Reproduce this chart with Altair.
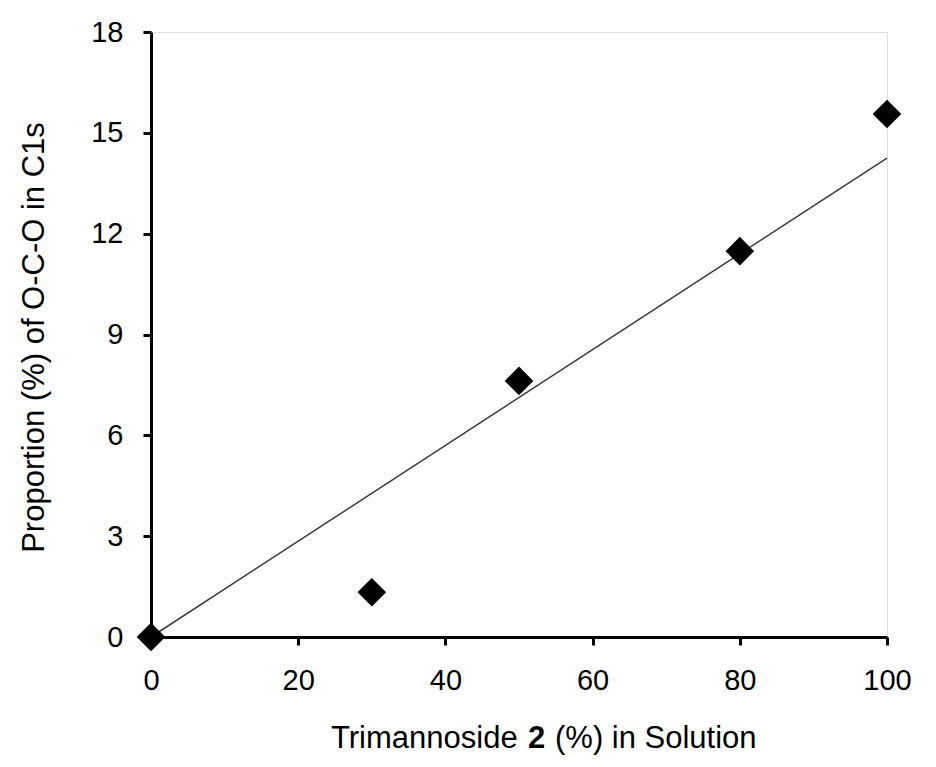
import altair as alt
import pandas as pd

# Data
trimannoside_pct = [0, 30, 50, 80, 100]
proportion_oco = [0.0, 1.33, 7.62, 11.48, 15.56]

# Linear trendline (endpoints)
trend_x = [0, 100]
trend_y = [0.0, 14.25]

x_ticks = [0, 20, 40, 60, 80, 100]
y_ticks = [0, 3, 6, 9, 12, 15, 18]

pts = pd.DataFrame({"x": trimannoside_pct, "y": proportion_oco})
trend = pd.DataFrame({"x": trend_x, "y": trend_y})

FONT = "Liberation Sans"

xscale = alt.Scale(domain=[0, 100], nice=False, zero=False)
yscale = alt.Scale(domain=[0, 18], nice=False, zero=False)

xaxis = alt.Axis(
    values=x_ticks, title=None, grid=False,
    domainColor="black", domainWidth=3,
    tickColor="black", tickWidth=3, tickSize=8,
    labelFont=FONT, labelFontSize=29, labelColor="black", labelPadding=21,
    labelFlush=False,
)
yaxis = alt.Axis(
    values=y_ticks, title="Proportion (%) of O-C-O in C1s", grid=False,
    domainColor="black", domainWidth=3,
    tickColor="black", tickWidth=3, tickSize=8,
    labelFont=FONT, labelFontSize=29, labelColor="black", labelPadding=20,
    labelFlush=False,
    titleFont=FONT, titleFontSize=31, titleFontWeight="normal", titleColor="black",
    titleAngle=-90, titleX=-108, titleY=305, titleAlign="center",
    titleBaseline="alphabetic",
)

line = alt.Chart(trend).mark_line(color="#3a3a3a", strokeWidth=1.5).encode(
    x=alt.X("x:Q", scale=xscale, axis=xaxis),
    y=alt.Y("y:Q", scale=yscale, axis=yaxis),
)

points = alt.Chart(pts).mark_point(
    shape="diamond", filled=True, color="black", size=820, opacity=1
).encode(
    x=alt.X("x:Q", scale=xscale),
    y=alt.Y("y:Q", scale=yscale),
)

t1 = alt.Chart(pd.DataFrame({"t": ["Trimannoside"]})).mark_text(
    font=FONT, fontSize=31, align="left", baseline="alphabetic", color="black"
).encode(text="t:N", x=alt.value(180), y=alt.value(716))
t2 = alt.Chart(pd.DataFrame({"t": ["2"]})).mark_text(
    font=FONT, fontSize=31, fontWeight="bold", align="left", baseline="alphabetic", color="black"
).encode(text="t:N", x=alt.value(377), y=alt.value(716))
t3 = alt.Chart(pd.DataFrame({"t": ["(%) in Solution"]})).mark_text(
    font=FONT, fontSize=31, align="left", baseline="alphabetic", color="black"
).encode(text="t:N", x=alt.value(404), y=alt.value(716))

chart = alt.layer(line, points, t1, t2, t3).properties(
    width=736, height=605,
    autosize=alt.AutoSizeParams(type="none"),
    padding={"left": 143, "top": 24, "right": 40, "bottom": 122},
).configure_view(
    stroke="black", strokeWidth=3
).configure(background="white")

chart.save("out.html", embed_options={"renderer": "svg", "actions": False})
